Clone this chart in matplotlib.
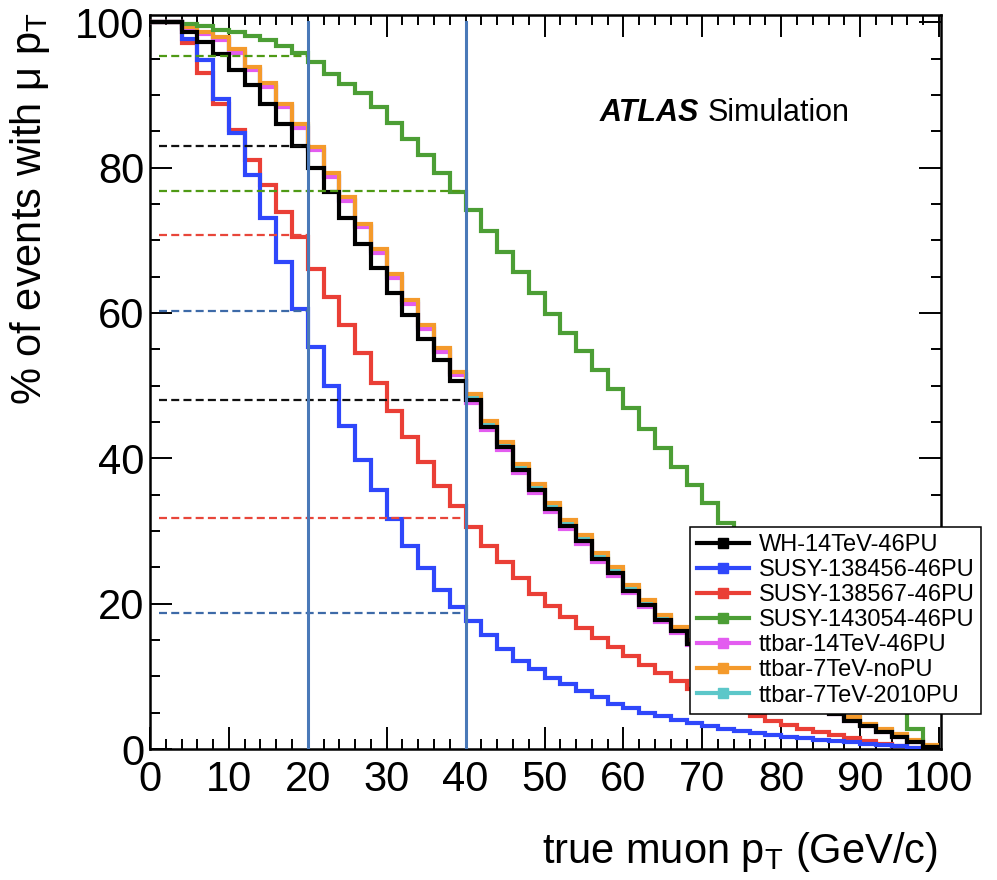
import matplotlib
matplotlib.use('Agg')
import matplotlib.pyplot as plt
from matplotlib.lines import Line2D
from matplotlib.ticker import MultipleLocator
import numpy as np

plt.rcParams['font.family'] = ['Liberation Sans', 'DejaVu Sans']
plt.rcParams['mathtext.fontset'] = 'custom'
plt.rcParams['mathtext.rm'] = 'Liberation Sans'
plt.rcParams['mathtext.it'] = 'Liberation Sans:italic'
plt.rcParams['mathtext.bf'] = 'Liberation Sans:bold'

# bin edges of the true muon pT (GeV/c), 2 GeV bins
edges = np.arange(0, 102, 2)

# % of events with muon pT above the bin low edge
wh_14tev = [100, 100, 98.6, 97.3, 95.6, 93.5, 91.3, 88.8, 86.0, 83.0,
            79.9, 76.6, 73.1, 69.5, 66.2, 62.8, 59.7, 56.4, 53.5, 50.7,
            48.0, 44.3, 41.5, 38.4, 35.6, 33.0, 30.7, 28.6, 26.2, 24.2,
            21.8, 19.8, 17.7, 16.2, 14.4, 12.9, 11.6, 10.4, 9.3, 8.3,
            7.4, 6.5, 5.7, 4.8, 3.9, 3.1, 2.4, 1.6, 0.9, 0.3]
susy_138456 = [100, 100, 97.7, 94.8, 89.4, 84.7, 79.0, 73.0, 67.0, 60.5,
               55.3, 49.9, 44.4, 39.7, 35.6, 31.7, 28.0, 24.9, 21.9, 19.6,
               17.6, 15.7, 13.7, 12.1, 11.0, 9.8, 8.9, 8.0, 7.1, 6.2,
               5.6, 5.0, 4.5, 4.0, 3.6, 3.2, 2.8, 2.5, 2.2, 1.9,
               1.7, 1.5, 1.3, 1.1, 0.9, 0.7, 0.5, 0.35, 0.2, 0.1]
susy_138567 = [100, 100, 97.1, 93.0, 88.8, 85.2, 81.1, 77.6, 73.9, 70.4,
               66.1, 62.2, 58.3, 54.5, 50.3, 46.5, 42.9, 39.5, 36.2, 33.5,
               30.6, 28.0, 25.8, 23.5, 21.3, 19.7, 18.1, 16.7, 15.3, 14.0,
               12.8, 11.6, 10.4, 9.3, 8.3, 7.3, 6.4, 5.5, 4.6, 3.9,
               3.3, 2.8, 2.4, 1.9, 1.5, 1.1, 0.7, 0.4, 0.2, 0.05]
susy_143054 = [100, 100, 99.8, 99.5, 99.0, 98.6, 98.1, 97.5, 96.8, 95.8,
               94.6, 92.9, 91.5, 90.2, 88.3, 86.2, 84.0, 81.7, 79.2, 76.7,
               74.1, 71.3, 68.4, 65.7, 62.7, 59.9, 57.2, 54.7, 52.2, 49.6,
               46.9, 44.1, 41.4, 38.8, 36.3, 33.8, 31.1, 28.6, 26.1, 23.6,
               21.1, 18.6, 16.2, 13.8, 11.5, 9.3, 7.3, 5.4, 2.7, 0.3]
ttbar_14tev = [100, 100, 99.1, 98.4, 97.6, 95.8, 93.4, 91.1, 88.3, 85.4,
               82.4, 78.7, 75.4, 71.8, 68.3, 64.8, 61.3, 57.8, 54.6, 51.4,
               47.6, 43.9, 41.1, 38.0, 35.2, 32.6, 30.3, 28.2, 25.8, 23.8,
               21.5, 19.5, 17.5, 16.0, 14.3, 12.8, 11.5, 10.3, 9.2, 8.2,
               7.3, 6.5, 5.7, 4.8, 3.9, 3.1, 2.4, 1.6, 0.9, 0.3]
ttbar_7tev_nopu = [100, 100, 99.3, 98.7, 98.0, 96.3, 93.9, 91.6, 88.8, 86.0,
                   82.9, 79.2, 75.9, 72.3, 68.8, 65.3, 61.8, 58.4, 55.2, 51.9,
                   48.8, 45.1, 42.3, 39.2, 36.4, 33.8, 31.5, 29.4, 27.0, 25.0,
                   22.6, 20.5, 18.4, 16.8, 15.0, 13.5, 12.1, 10.9, 9.8, 8.8,
                   7.9, 7.0, 6.2, 5.3, 4.4, 3.5, 2.8, 2.0, 1.2, 0.5]
ttbar_7tev_2010pu = [100, 100, 99.2, 98.5, 97.8, 96.0, 93.6, 91.3, 88.5, 85.7,
                     82.6, 78.9, 75.6, 72.0, 68.5, 65.0, 61.5, 58.1, 54.9, 51.6,
                     48.4, 44.7, 41.9, 38.8, 36.0, 33.4, 31.1, 29.0, 26.6, 24.6,
                     22.2, 20.2, 18.1, 16.5, 14.7, 13.2, 11.9, 10.7, 9.6, 8.6,
                     7.7, 6.8, 6.0, 5.1, 4.2, 3.3, 2.6, 1.8, 1.0, 0.4]

# efficiency read-off at the 20 and 40 GeV cuts
cuts = [20, 40]
cut_green = [95.3, 76.8]
cut_black = [83.0, 48.0]
cut_red = [70.7, 31.8]
cut_blue = [60.3, 18.7]

labels = ['WH-14TeV-46PU', 'SUSY-138456-46PU', 'SUSY-138567-46PU', 'SUSY-143054-46PU',
          'ttbar-14TeV-46PU', 'ttbar-7TeV-noPU', 'ttbar-7TeV-2010PU']
colors = ['#000000', '#2f47fb', '#ea3f36', '#4c9e35', '#e35cf0', '#f49a2c', '#5cc7c9']

fig = plt.figure(figsize=(9.97, 8.8), dpi=100)
ax = fig.add_axes([150 / 997, 1 - 749 / 880, 791 / 997, 734 / 880])

lw = 3.0
ax.stairs(ttbar_7tev_2010pu, edges, baseline=None, color=colors[6], lw=lw, zorder=2)
ax.stairs(ttbar_14tev, edges, baseline=None, color=colors[4], lw=lw, zorder=3)
ax.stairs(ttbar_7tev_nopu, edges, baseline=None, color=colors[5], lw=lw, zorder=3.5)
ax.stairs(susy_143054, edges, baseline=None, color=colors[3], lw=lw, zorder=4)
ax.stairs(susy_138567, edges, baseline=None, color=colors[2], lw=lw, zorder=5)
ax.stairs(susy_138456, edges, baseline=None, color=colors[1], lw=lw, zorder=6)
ax.stairs(wh_14tev, edges, baseline=None, color=colors[0], lw=lw, zorder=7)

# dashed read-off lines and the cut lines
dash_cols = ['#4f9a15', '#111111', '#e8463a', '#3d6aa8']
for vals, c in zip([cut_green, cut_black, cut_red, cut_blue], dash_cols):
    for cut, v in zip(cuts, vals):
        ax.plot([1.2, cut], [v, v], color=c, lw=1.6, dashes=(3.6, 1.9), zorder=8)
for cut in cuts:
    ax.plot([cut, cut], [0, 100], color='#4a79b8', lw=2.2, zorder=9)

ax.set_xlim(0, 100.25)
ax.set_ylim(0, 101)
ax.xaxis.set_major_locator(MultipleLocator(10))
ax.xaxis.set_minor_locator(MultipleLocator(2))
ax.yaxis.set_major_locator(MultipleLocator(20))
ax.yaxis.set_minor_locator(MultipleLocator(5))
ax.tick_params(which='both', direction='in', top=True, right=True, width=1.4, labelsize=30)
ax.tick_params(which='major', length=16)
ax.tick_params(which='minor', length=7.5)
ax.tick_params(axis='x', pad=8)
ax.tick_params(axis='y', pad=4)
for s in ax.spines.values():
    s.set_linewidth(1.8)

ax.text(57.0, 86.4, 'ATLAS', fontsize=22, fontweight='bold', fontstyle='italic', va='baseline')
ax.text(70.7, 86.4, 'Simulation', fontsize=22, va='baseline')

fig.text(938 / 997, 1 - 863 / 880, r'true muon p$_{\mathrm{T}}$ (GeV/c)', fontsize=30,
         ha='right', va='baseline')
fig.text(30 / 997, 1 - 12 / 880, '% of events with \u03bc p$_{\\mathrm{T}}$', fontsize=30,
         rotation=90, ha='center', va='top')

handles = [Line2D([], [], color=c, lw=3, marker='s', markersize=7) for c in colors]
leg = ax.legend(handles, labels, loc='upper left', bbox_to_anchor=(690 / 997, 1 - 527 / 880),
                bbox_transform=fig.transFigure, fontsize=17, frameon=True, fancybox=False,
                framealpha=1, edgecolor='black', borderpad=0.3, labelspacing=0.13,
                handlelength=2.2, handletextpad=0.4, borderaxespad=0)
leg.get_frame().set_linewidth(1.1)
leg.set_zorder(20)

fig.savefig('out.png', dpi=100)
